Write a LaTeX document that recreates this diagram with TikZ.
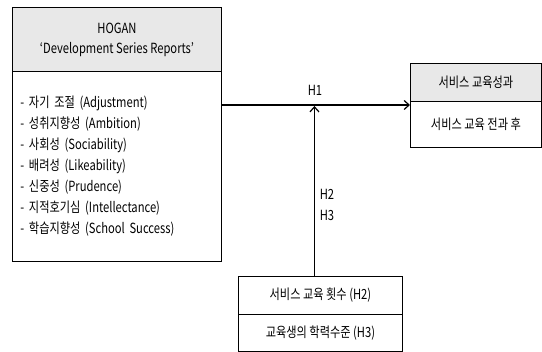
\documentclass[tikz,border=0pt]{standalone}
\usepackage{fontspec}
\setmainfont[FakeStretch=0.8]{Noto Sans CJK KR}
\usetikzlibrary{arrows.meta}
\begin{document}
\begin{tikzpicture}[x=1pt,y=-1pt,
  box/.style={draw=black, line width=0.9pt, inner sep=0pt, anchor=north west, font=\fontsize{14}{21}\selectfont},
  hdr/.style={box, fill=black!9},
  arr/.style={line width=1.2pt, -{Straight Barb[length=5pt,width=9pt,line width=1.2pt]}},
  lbl/.style={font=\fontsize{14}{21}\selectfont, inner sep=0pt}]
\useasboundingbox (0,0) rectangle (542,352);
% left box
\node[hdr, minimum width=209pt, minimum height=64pt, align=center] (hogan) at (12,7) {HOGAN\\[-1pt]`Development Series Reports'};
\node[box, minimum width=209pt, minimum height=190pt, text width=193pt, align=left, inner xsep=8pt] (traits) at (12,71)
 {- 자기 조절 (Adjustment)\\
  - 성취지향성 (Ambition)\\
  - 사회성 (Sociability)\\
  - 배려성 (Likeability)\\
  - 신중성 (Prudence)\\
  - 지적호기심 (Intellectance)\\
  - 학습지향성 (School Success)};
% right box
\node[hdr, minimum width=131pt, minimum height=38pt] (ph) at (410,63) {서비스 교육성과};
\node[box, minimum width=131pt, minimum height=46pt] (pb) at (410,101) {서비스 교육 전과 후};
% bottom box
\node[box, minimum width=164pt, minimum height=38pt] (edu) at (238,276) {서비스 교육 횟수 (H2)};
\node[box, minimum width=164pt, minimum height=37pt] (lvl) at (238,314) {교육생의 학력수준 (H3)};
% arrows
\path ([yshift=-34pt]traits.north east) coordinate (h1s);
\draw[arr] (h1s) -- (h1s -| pb.west);
\draw[arr] ([xshift=-6pt]edu.north) -- ([xshift=-6pt,yshift=-1pt]edu.north |- h1s);
% labels
\node[lbl] (h1) at (315,90) {H1};
\node[lbl, align=left] (h23) at (327,205) {H2\\H3};
\end{tikzpicture}
\end{document}
